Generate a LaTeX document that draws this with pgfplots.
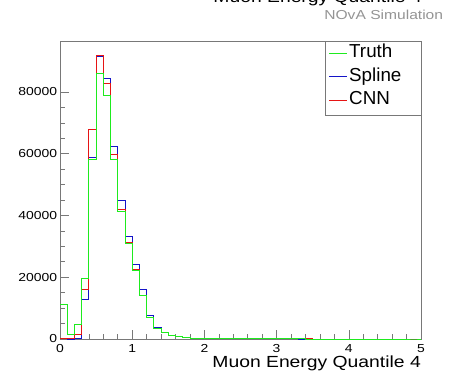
\documentclass[border=0pt]{standalone}
\usepackage{pgfplots}
\usepackage{pgfplotstable}
\pgfplotsset{compat=1.18}
\usepackage{fontspec}
\setmainfont{Liberation Sans}
\newfontfamily\wide[FakeStretch=1.2]{Liberation Sans}
\definecolor{rtgreen}{RGB}{30,235,30}
\definecolor{rtblue}{RGB}{20,20,200}
\definecolor{rtred}{RGB}{230,20,20}
\definecolor{frame}{RGB}{120,120,120}
\pgfplotstableread{
x truth spline cnn
0.0 11100 100 300
0.1 1400 0 100
0.2 4700 200 1500
0.3 19750 12800 15900
0.4 58300 58800 67700
0.5 86150 91500 91850
0.6 79000 84500 82700
0.7 58070 62400 59800
0.8 41450 44900 42100
0.9 31100 33200 31300
1.0 22350 24150 22500
1.1 14250 15950 14250
1.2 7000 7750 7000
1.3 3550 3700 3450
1.4 2050 2100 2000
1.5 1200 1200 1150
1.6 750 700 700
1.7 480 450 450
1.8 330 300 300
1.9 240 220 220
2.0 180 160 170
2.1 140 120 130
2.2 110 100 100
2.3 90 80 85
2.4 75 65 70
2.5 60 55 60
2.6 50 45 55
2.7 42 38 45
2.8 36 32 40
2.9 30 28 35
3.0 26 24 30
3.1 22 20 26
3.2 19 17 22
3.3 17 15 20
3.4 15 13 18
3.5 13 11 16
3.6 12 10 14
3.7 11 9 12
3.8 10 8 10
3.9 9 7 9
4.0 8 6 8
4.1 7 6 7
4.2 6 5 6
4.3 6 5 6
4.4 5 4 5
4.5 5 4 5
4.6 4 3 4
4.7 4 3 4
4.8 3 3 3
4.9 3 2 3
5.0 3 2 3
}\histdata
\begin{document}
\begin{tikzpicture}
\useasboundingbox (0,0) rectangle (449bp,375bp);
\begin{axis}[
  at={(60bp,36bp)}, anchor=south west,
  scale only axis, width=361bp, height=298bp,
  xmin=0, xmax=5, ymin=0, ymax=96500,
  clip=false,
  axis line style={frame, line width=0.6bp},
  tick style={frame, line width=0.6bp},
  tick align=inside, tick pos=left,
  xtick={0,1,2,3,4,5}, minor x tick num=4,
  ytick={0,20000,40000,60000,80000}, minor y tick num=3,
  major tick length=9bp, minor tick length=4.5bp,
  scaled y ticks=false,
  /pgf/number format/assume math mode=true,
  /pgf/number format/set thousands separator={},
  ticklabel style={font=\wide\fontsize{11.6bp}{14bp}\selectfont},
  yticklabel style={inner sep=0pt, xshift=-2.7bp},
  xticklabel style={inner sep=0pt, yshift=-5bp},
  xlabel={Muon Energy Quantile 4},
  xlabel style={at={(axis description cs:1,0)}, anchor=base east, yshift=-28.7bp, inner sep=0pt, font=\wide\fontsize{16.1bp}{19bp}\selectfont},
]
\addplot[const plot, rtblue, line width=0.9bp] table[x=x, y=spline] {\histdata};
\addplot[const plot, rtred, line width=0.9bp] table[x=x, y=cnn] {\histdata};
\addplot[const plot, rtgreen, line width=0.9bp] table[x=x, y=truth] {\histdata};
\end{axis}
% legend
\draw[frame, line width=0.6bp, fill=white] (325bp,260bp) rectangle (421bp,334bp);
\fill[rtgreen] (329.3bp,321.2bp) rectangle (346.7bp,322.3bp);
\fill[rtblue] (329.3bp,297.8bp) rectangle (346.7bp,298.9bp);
\fill[rtred] (329.3bp,273.8bp) rectangle (346.7bp,274.9bp);
\node[anchor=base west, inner sep=0pt, font=\fontsize{18.8bp}{22bp}\selectfont] at (349bp,317.5bp) {Truth};
\node[anchor=base west, inner sep=0pt, font=\fontsize{18.8bp}{22bp}\selectfont] at (349bp,293.3bp) {Spline};
\node[anchor=base west, inner sep=0pt, font=\fontsize{18.8bp}{22bp}\selectfont] at (349bp,270.3bp) {CNN};
% titles
\node[anchor=base east, inner sep=0pt, font=\wide\fontsize{16.1bp}{19bp}\selectfont] at (422bp,372bp) {Muon Energy Quantile 4};
\node[anchor=base east, inner sep=0pt, text=black!42, font=\wide\fontsize{13bp}{16bp}\selectfont] at (443.3bp,355bp) {NOvA Simulation};
\end{tikzpicture}
\end{document}
